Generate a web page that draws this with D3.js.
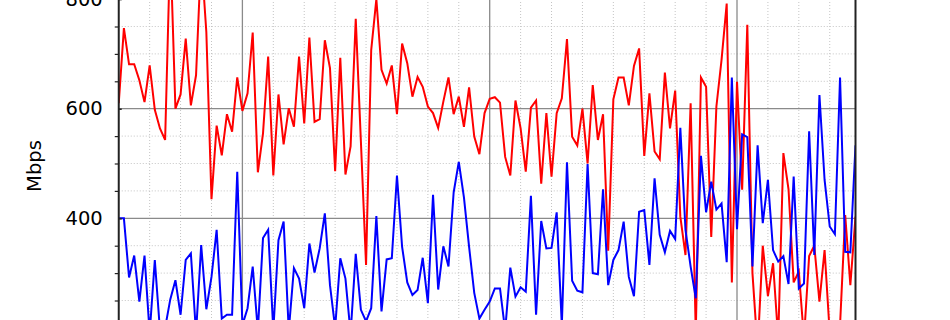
<!DOCTYPE html>
<html>
<head>
<meta charset="utf-8">
<script src="https://cdn.jsdelivr.net/npm/d3@7/dist/d3.min.js"></script>
<style>
  html, body { margin: 0; padding: 0; background: #fff; }
  svg { display: block; }
</style>
</head>
<body>
<svg id="chart" width="950" height="320"></svg>
<script>
// ---- data (sample index → Mbps) ----
const redValues = [
  610,747,681,681,652,612,679,598,564,543,900,600,626,728,606,661,880,740,435,569,
  515,590,558,657,596,628,739,484,555,695,478,626,535,601,567,695,573,730,576,581,
  725,674,486,693,480,531,764,540,315,707,800,671,646,679,590,719,683,622,658,640,
  604,592,565,613,657,590,622,567,639,549,517,592,618,621,611,512,478,615,564,485,
  602,615,463,592,476,592,619,727,549,533,600,500,643,543,590,341,617,657,657,606,
  678,710,514,628,522,508,666,564,633,403,333,610,190,657,640,366,604,689,792,283,
  649,452,753,300,160,350,258,318,180,519,453,283,303,180,331,350,248,342,190,170,
  205,406,278,403
];
const blueValues = [
  400,400,292,332,248,332,190,324,195,200,252,287,224,324,336,190,351,234,293,379,
  217,224,224,485,205,236,312,195,364,379,195,360,394,195,309,290,236,354,301,345,
  409,278,200,327,290,190,335,233,212,236,404,230,325,327,478,348,283,260,269,328,
  245,443,270,349,312,447,503,438,348,264,217,233,248,272,272,195,310,257,274,266,
  441,224,395,345,346,411,205,502,286,268,265,499,300,298,453,278,324,342,394,293,
  258,412,415,315,473,370,338,377,362,565,379,312,254,514,411,467,416,427,320,657,
  380,553,548,312,533,391,470,342,321,331,280,476,272,281,559,333,625,470,385,371,
  657,339,338,533
];
const yMajorTicks = [400, 600, 800];
const yMinorTicks = [250, 300, 350, 450, 500, 550, 650, 700, 750];
const xMajorTicks = [24, 72, 120];
const xMinorTicks = [6, 12, 18, 30, 36, 42, 48, 54, 60, 66, 78, 84, 90, 96, 102, 108, 114, 126, 132, 138];
const yLabel = "Mbps";

// ---- layout ----
const svg = d3.select("#chart");
const plotLeft = 118.75, plotRight = 855.5;
const x = d3.scaleLinear().domain([0, redValues.length - 1]).range([plotLeft, plotRight]);
const y = d3.scaleLinear().domain([200, 800]).range([327.9, -0.9]);
const plotTop = -40, plotBottom = 360;
const font = "'DejaVu Sans', sans-serif";

svg.append("defs").append("clipPath").attr("id", "plotclip")
  .append("rect").attr("x", plotLeft).attr("y", plotTop)
  .attr("width", plotRight - plotLeft).attr("height", plotBottom - plotTop);

// minor grid
const grid = svg.append("g");
grid.selectAll("line.vmin").data(xMinorTicks).join("line").attr("class", "vmin")
  .attr("x1", d => x(d)).attr("x2", d => x(d)).attr("y1", plotTop).attr("y2", plotBottom)
  .attr("stroke", "#c4c4c4").attr("stroke-width", 1).attr("stroke-dasharray", "1,2");
grid.selectAll("line.hmin").data(yMinorTicks).join("line").attr("class", "hmin")
  .attr("x1", plotLeft).attr("x2", plotRight).attr("y1", d => y(d)).attr("y2", d => y(d))
  .attr("stroke", "#c4c4c4").attr("stroke-width", 1).attr("stroke-dasharray", "1,2");
// major grid
grid.selectAll("line.vmaj").data(xMajorTicks).join("line").attr("class", "vmaj")
  .attr("x1", d => x(d)).attr("x2", d => x(d)).attr("y1", plotTop).attr("y2", plotBottom)
  .attr("stroke", "#8a8a8a").attr("stroke-width", 1.3);
grid.selectAll("line.hmaj").data(yMajorTicks).join("line").attr("class", "hmaj")
  .attr("x1", plotLeft).attr("x2", plotRight).attr("y1", d => y(d)).attr("y2", d => y(d))
  .attr("stroke", "#8a8a8a").attr("stroke-width", 1.3);

// lines
const line = d3.line().x((d, i) => x(i)).y(d => y(d));
const plot = svg.append("g").attr("clip-path", "url(#plotclip)");
plot.append("path").datum(redValues).attr("d", line)
  .attr("fill", "none").attr("stroke", "#ff0000").attr("stroke-width", 2);
plot.append("path").datum(blueValues).attr("d", line)
  .attr("fill", "none").attr("stroke", "#0000ff").attr("stroke-width", 2);

// spines
svg.append("line").attr("x1", plotLeft).attr("x2", plotLeft).attr("y1", plotTop).attr("y2", plotBottom)
  .attr("stroke", "#222").attr("stroke-width", 2);
svg.append("line").attr("x1", plotRight).attr("x2", plotRight).attr("y1", plotTop).attr("y2", plotBottom)
  .attr("stroke", "#222").attr("stroke-width", 2);

// y axis (major)
const yAxis = svg.append("g").attr("transform", `translate(${plotLeft},0)`)
  .call(d3.axisLeft(y).tickValues(yMajorTicks).tickSize(10).tickPadding(6).tickFormat(d3.format("d")));
yAxis.select(".domain").remove();
yAxis.selectAll(".tick line").attr("stroke", "#222").attr("stroke-width", 1.5).attr("x2", 3);
yAxis.selectAll(".tick text").attr("font-family", font).attr("font-size", "19.5px").attr("fill", "#000");

// y axis (minor)
const yMinor = svg.append("g").attr("transform", `translate(${plotLeft},0)`)
  .call(d3.axisLeft(y).tickValues(yMinorTicks).tickSize(4).tickFormat(""));
yMinor.select(".domain").remove();
yMinor.selectAll(".tick line").attr("stroke", "#222").attr("stroke-width", 1.2);

// y label
svg.append("text").attr("transform", "translate(41,166) rotate(-90)")
  .attr("text-anchor", "middle").attr("font-family", font).attr("font-size", "19.5px")
  .attr("fill", "#000").text(yLabel);
</script>
</body>
</html>
